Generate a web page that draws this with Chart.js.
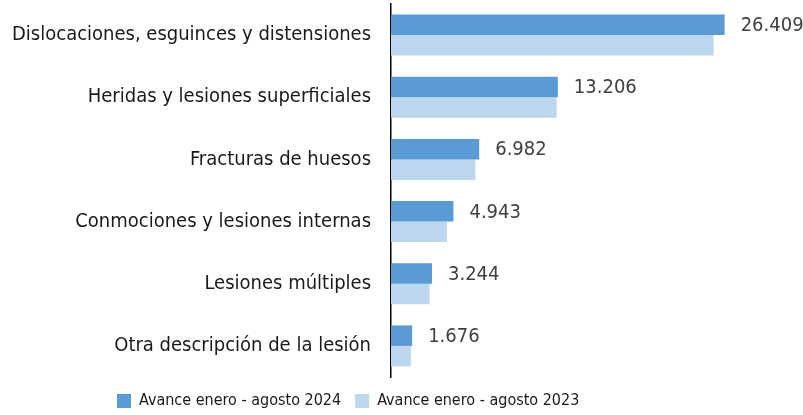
<!DOCTYPE html>
<html>
<head>
<meta charset="utf-8">
<script src="https://cdn.jsdelivr.net/npm/chart.js@4.4.1/dist/chart.umd.min.js"></script>
<style>
  html, body { margin: 0; padding: 0; background: #fff; }
  #wrap { width: 803px; height: 415px; }
</style>
</head>
<body>
<div id="wrap"><canvas id="myChart" width="803" height="415"></canvas></div>
<script>
  "use strict";

  const categories = [
    "Dislocaciones, esguinces y distensiones",
    "Heridas y lesiones superficiales",
    "Fracturas de huesos",
    "Conmociones y lesiones internas",
    "Lesiones múltiples",
    "Otra descripción de la lesión",
  ];
  const values2024 = [26409, 13206, 6982, 4943, 3244, 1676];
  const values2023 = [25540, 13110, 6670, 4430, 3060, 1580];
  const seriesLabels = ["Avance enero - agosto 2024", "Avance enero - agosto 2023"];

  const fontFamily = "'Liberation Sans Narrow', 'DejaVu Sans Condensed', 'Open Sans', sans-serif";

  // miles con punto, como en el original
  const fmt = (v) => String(v).replace(/\B(?=(\d{3})+(?!\d))/g, ".");

  /* etiquetas de valor solo para la serie 2024 */
  const valueLabels = {
    id: "valueLabels",
    afterDatasetsDraw(chart) {
      const ctx = chart.ctx;
      const meta = chart.getDatasetMeta(0);
      ctx.save();
      ctx.font = "20px " + fontFamily;
      ctx.fillStyle = "#404040";
      ctx.textAlign = "left";
      ctx.textBaseline = "middle";
      meta.data.forEach((bar, i) => {
        ctx.fillText(fmt(values2024[i]), bar.x + 16, bar.y + 1);
      });
      ctx.restore();
    },
  };

  // la leyenda del original no está centrada en el lienzo
  const legendShift = {
    id: "legendShift",
    afterLayout(chart) {
      const lg = chart.legend;
      lg.left = 117 - lg.options.labels.padding;
      lg.top += 2;
    },
  };

  const ctx = document.getElementById("myChart").getContext("2d");
  const chart = new Chart(ctx, {
    type: "bar",
    data: {
      labels: categories,
      datasets: [
        {
          label: seriesLabels[0],
          data: values2024,
          backgroundColor: "#5B9BD5",
          categoryPercentage: 0.66,
          barPercentage: 1.0,
        },
        {
          label: seriesLabels[1],
          data: values2023,
          backgroundColor: "#BDD7EE",
          categoryPercentage: 0.66,
          barPercentage: 1.0,
        },
      ],
    },
    options: {
      indexAxis: "y",
      responsive: false,
      animation: false,
      layout: {
        padding: { top: 4, right: 33, left: 0, bottom: -2 },
      },
      scales: {
        x: {
          display: false,
          min: 0,
          max: 30000,
        },
        y: {
          grid: { display: false, drawTicks: false },
          border: { display: true, color: "#000", width: 1.5 },
          ticks: {
            padding: 20,
            color: "#1a1a1a",
            font: { family: fontFamily, size: 20 },
          },
          afterFit(scale) {
            scale.width = 391;
            scale.paddingTop = 0;
            scale.paddingBottom = 0;
          },
        },
      },
      plugins: {
        legend: {
          position: "bottom",
          align: "start",
          labels: {
            boxWidth: 14,
            boxHeight: 14,
            padding: 14,
            color: "#1a1a1a",
            font: { family: fontFamily, size: 16 },
          },
        },
        tooltip: { enabled: false },
      },
    },
    plugins: [valueLabels, legendShift],
  });
</script>
</body>
</html>
